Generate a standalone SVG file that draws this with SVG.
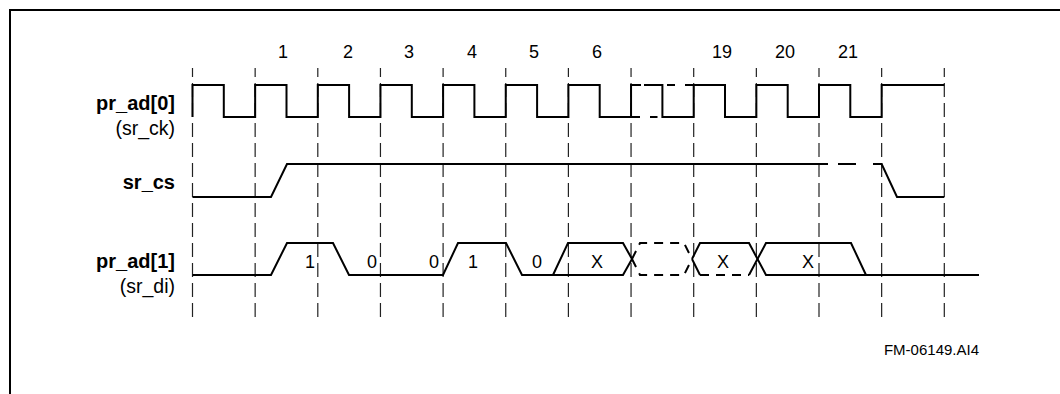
<svg xmlns="http://www.w3.org/2000/svg" width="1060" height="394" viewBox="0 0 1060 394">
<style>
  .sig { fill: none; stroke: #000; stroke-width: 2; stroke-linejoin: miter; }
  .dsh { fill: none; stroke: #000; stroke-width: 2; stroke-dasharray: 9 7; }
  .grid { fill: none; stroke: #222; stroke-width: 1.2; stroke-dasharray: 14 6; stroke-dashoffset: 5; }
  .lbl { font-family: "Liberation Sans", Arial, sans-serif; font-size: 19.5px; fill: #000; }
  .b { font-weight: bold; font-size: 20px; }
  .num { font-family: "Liberation Sans", Arial, sans-serif; font-size: 18px; fill: #000; text-anchor: middle; }
</style>
<rect width="1060" height="394" fill="#fff"/>
<path d="M10,394 V10 H1060" fill="none" stroke="#000" stroke-width="2"/>

<g id="gridlines">
  <line class="grid" x1="192.5" y1="68" x2="192.5" y2="317"/>
  <line class="grid" x1="255.15" y1="68" x2="255.15" y2="317"/>
  <line class="grid" x1="317.8" y1="68" x2="317.8" y2="317"/>
  <line class="grid" x1="380.45" y1="68" x2="380.45" y2="317"/>
  <line class="grid" x1="443.1" y1="68" x2="443.1" y2="317"/>
  <line class="grid" x1="505.75" y1="68" x2="505.75" y2="317"/>
  <line class="grid" x1="568.4" y1="68" x2="568.4" y2="317"/>
  <line class="grid" x1="631.05" y1="68" x2="631.05" y2="317"/>
  <line class="grid" x1="693.7" y1="68" x2="693.7" y2="317"/>
  <line class="grid" x1="756.35" y1="68" x2="756.35" y2="317"/>
  <line class="grid" x1="819" y1="68" x2="819" y2="317"/>
  <line class="grid" x1="881.65" y1="68" x2="881.65" y2="317"/>
  <line class="grid" x1="944.3" y1="68" x2="944.3" y2="317"/>
</g>

<g id="cycle-numbers">
  <text class="num" x="283" y="57.5">1</text>
  <text class="num" x="348" y="57.5">2</text>
  <text class="num" x="409" y="57.5">3</text>
  <text class="num" x="472" y="57.5">4</text>
  <text class="num" x="534" y="57.5">5</text>
  <text class="num" x="597" y="57.5">6</text>
  <text class="num" x="722" y="57.5">19</text>
  <text class="num" x="785" y="57.5">20</text>
  <text class="num" x="848" y="57.5">21</text>
</g>

<g id="sig-pr_ad0">
  <text class="lbl b" x="175" y="110" text-anchor="end">pr_ad[0]</text>
  <text class="lbl" x="175" y="135" text-anchor="end">(sr_ck)</text>
  <path class="sig" d="M192.5,117 V85 H223.8 V117 H255.15 V85 H286.5 V117 H317.8 V85 H349.1 V117 H380.45 V85 H411.8 V117 H443.1 V85 H474.4 V117 H505.75 V85 H537.1 V117 H568.4 V85 H599.7 V117 H640"/>
  <path class="sig" d="M631.05,117 V85 H641 M644,85 H662.4 V117 H693.7 V85 H725 V117 H756.35 V85 H787.7 V117 H819 V85 H850.3 V117 H881.65 V85 H944.3"/>
  <path class="sig" d="M650,117 H657.5 M667,85 H675 M685,85 H693"/>
</g>

<g id="sig-sr_cs">
  <text class="lbl b" x="175" y="189" text-anchor="end">sr_cs</text>
  <path class="sig" d="M192.5,197 H271 L287,164 H828"/>
  <path class="sig" d="M838,164 H856 M873,164 H881.65 L897,197 H944.3"/>
</g>

<g id="sig-pr_ad1">
  <text class="lbl b" x="175" y="268" text-anchor="end">pr_ad[1]</text>
  <text class="lbl" x="175" y="293" text-anchor="end">(sr_di)</text>
  <path class="sig" d="M192.5,275 H271 L287,243 H333 L349,275 H443 L458,243 H506 L522,275 H623 L632,259"/>
  <path class="sig" d="M553,275 L568,243 H623 L632,259"/>
  <path class="dsh" d="M632,259 L640,243 H684 L692,259"/>
  <path class="dsh" d="M632,259 L640,275 H684 L692,259"/>
  <path class="sig" d="M692,259 L700,243 H749 L766,275 H979"/>
  <path class="sig" d="M692,259 L700,275"/>
  <path class="dsh" d="M700,275 H749"/>
  <path class="sig" d="M749,275 L766,243 H851 L866,275"/>
  <text class="num" x="310" y="268">1</text>
  <text class="num" x="372" y="268">0</text>
  <text class="num" x="434" y="268">0</text>
  <text class="num" x="473" y="268">1</text>
  <text class="num" x="537" y="268">0</text>
  <text class="num" x="597" y="268">X</text>
  <text class="num" x="723" y="268">X</text>
  <text class="num" x="808" y="268">X</text>
</g>

<text class="lbl" x="979" y="355" text-anchor="end" style="font-size:15px">FM-06149.AI4</text>
</svg>
